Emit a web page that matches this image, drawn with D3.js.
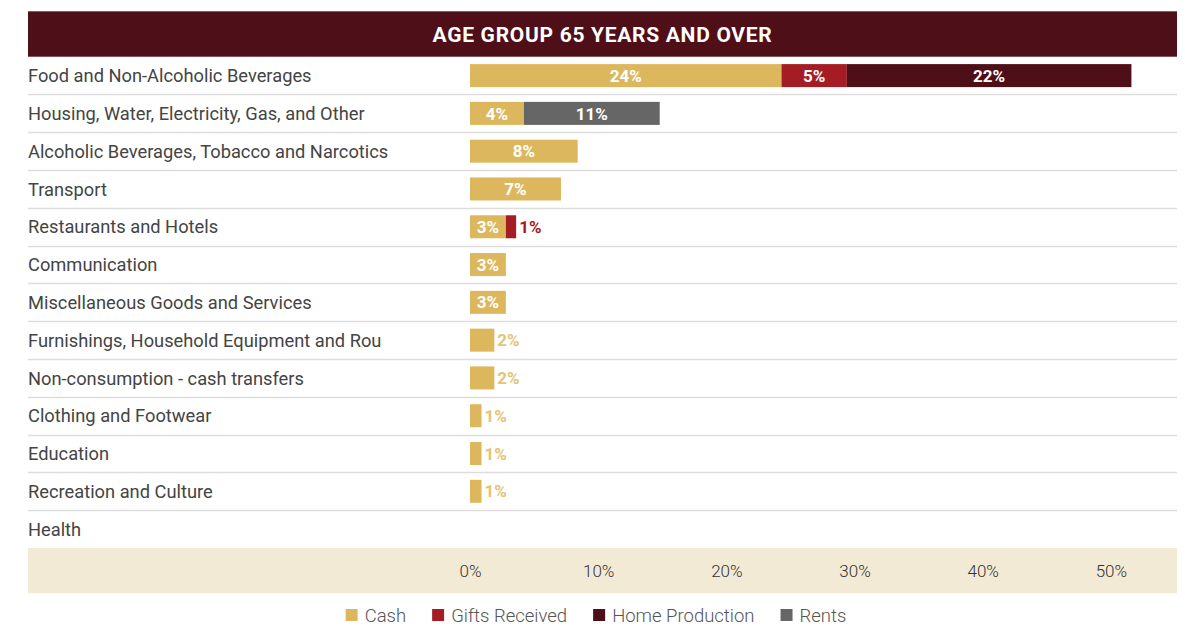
<!DOCTYPE html>
<html>
<head>
<meta charset="utf-8">
<script src="https://cdn.jsdelivr.net/npm/d3@7/dist/d3.min.js"></script>
<style>
  html, body { margin: 0; padding: 0; background: #fff; }
  svg { display: block; font-family: Roboto, "Noto Sans", sans-serif; }
</style>
</head>
<body>
<svg id="chart" width="1185" height="627"></svg>
<script>
// Spending categories (share of total, %)
const categories = [
  "Food and Non-Alcoholic Beverages",
  "Housing, Water, Electricity, Gas, and Other",
  "Alcoholic Beverages, Tobacco and Narcotics",
  "Transport",
  "Restaurants and Hotels",
  "Communication",
  "Miscellaneous Goods and Services",
  "Furnishings, Household Equipment and Rou",
  "Non-consumption - cash transfers",
  "Clothing and Footwear",
  "Education",
  "Recreation and Culture",
  "Health"
];
const seriesNames = ["Cash", "Gifts Received", "Home Production", "Rents"];
const cash           = [24.3, 4.2, 8.4, 7.1, 2.8, 2.8, 2.8, 1.9, 1.9, 0.9, 0.9, 0.9, 0];
const giftsReceived  = [5.1, 0, 0, 0, 0.8, 0, 0, 0, 0, 0, 0, 0, 0];
const homeProduction = [22.2, 0, 0, 0, 0, 0, 0, 0, 0, 0, 0, 0, 0];
const rents          = [0, 10.6, 0, 0, 0, 0, 0, 0, 0, 0, 0, 0, 0];
const tickValues = [0, 10, 20, 30, 40, 50];
const title = "AGE GROUP 65 YEARS AND OVER";

const colors = {
  "Cash": "#dcb75d",
  "Gifts Received": "#a51d24",
  "Home Production": "#4f0f18",
  "Rents": "#666666"
};
const outsideLabelColors = {
  "Cash": "#e3c476",
  "Gifts Received": "#a51d24",
  "Home Production": "#4f0f18",
  "Rents": "#666666"
};

const rows = categories.map((c, i) => ({
  category: c,
  "Cash": cash[i],
  "Gifts Received": giftsReceived[i],
  "Home Production": homeProduction[i],
  "Rents": rents[i]
}));

const svg = d3.select("#chart");
const left = 28, right = 1177;
const headerTop = 11.5, headerBottom = 56.7;
const rowsBottom = 548;
const axisBottom = 593.3;

const x = d3.scaleLinear().domain([0, 55]).range([470, 1175]);
const y = d3.scaleBand().domain(categories).range([headerBottom, rowsBottom]).padding(0);
const barH = 23;

// Header band
svg.append("line")
  .attr("x1", left).attr("x2", right)
  .attr("y1", headerTop).attr("y2", headerTop)
  .attr("stroke", "#b9b0b1").attr("stroke-width", 1);
svg.append("rect")
  .attr("x", left).attr("y", headerTop)
  .attr("width", right - left).attr("height", headerBottom - headerTop)
  .attr("fill", "#4f0f18");
svg.append("text")
  .attr("x", 602.5).attr("y", (headerTop + headerBottom) / 2 + 0.8)
  .attr("dy", "0.36em")
  .attr("text-anchor", "middle")
  .attr("fill", "#ffffff")
  .attr("font-weight", 700)
  .attr("font-size", 21)
  .attr("letter-spacing", 0.7)
  .text(title);

// Row separators
svg.append("g").selectAll("line")
  .data(categories.slice(1))
  .join("line")
  .attr("x1", left).attr("x2", right)
  .attr("y1", d => Math.round(y(d)) + 0.5).attr("y2", d => Math.round(y(d)) + 0.5)
  .attr("stroke", "#dddddd").attr("stroke-width", 1.3);

// Row labels
svg.append("g").selectAll("text")
  .data(categories)
  .join("text")
  .attr("x", left)
  .attr("y", d => y(d) + y.bandwidth() / 2)
  .attr("dy", "0.36em")
  .attr("fill", "#444444")
  .attr("font-size", 18.3)
  .text(d => d);

// Stacked bars
const stack = d3.stack().keys(seriesNames);
const layers = stack(rows);

const segs = [];
layers.forEach(layer => {
  layer.forEach(p => {
    const v = p[1] - p[0];
    if (v > 0) segs.push({ key: layer.key, cat: p.data.category, x0: p[0], x1: p[1], v });
  });
});

const barG = svg.append("g");
barG.selectAll("rect")
  .data(segs)
  .join("rect")
  .attr("x", d => x(d.x0))
  .attr("y", d => y(d.cat) + (y.bandwidth() - barH) / 2)
  .attr("width", d => x(d.x1) - x(d.x0))
  .attr("height", barH)
  .attr("fill", d => colors[d.key]);

// Value labels: inside when the segment is wide enough, otherwise just past its end
barG.selectAll("text")
  .data(segs)
  .join("text")
  .each(function (d) {
    const w = x(d.x1) - x(d.x0);
    const inside = w >= 30;
    d3.select(this)
      .attr("x", inside ? (x(d.x0) + x(d.x1)) / 2 : x(d.x1) + 3)
      .attr("y", y(d.cat) + y.bandwidth() / 2)
      .attr("dy", "0.36em")
      .attr("text-anchor", inside ? "middle" : "start")
      .attr("fill", inside ? "#ffffff" : outsideLabelColors[d.key]);
  })
  .attr("font-weight", 700)
  .attr("font-size", 17)
  .text(d => Math.round(d.v) + "%");

// Axis band
svg.append("rect")
  .attr("x", left).attr("y", rowsBottom)
  .attr("width", right - left).attr("height", axisBottom - rowsBottom)
  .attr("fill", "#f3ead6");

const axis = d3.axisBottom(x)
  .tickValues(tickValues)
  .tickSize(0)
  .tickPadding(0)
  .tickFormat(d => d + "%");
const axisG = svg.append("g")
  .attr("transform", `translate(0, ${(rowsBottom + axisBottom) / 2})`)
  .call(axis);
axisG.select(".domain").remove();
axisG.selectAll("text")
  .attr("y", 0)
  .attr("dy", "0.36em")
  .attr("fill", "#333333")
  .attr("font-size", 17)
  .attr("font-weight", 300)
  .attr("font-family", "Roboto, sans-serif");

// Legend
const legend = svg.append("g");
const items = legend.selectAll("g")
  .data(seriesNames)
  .join("g");
items.append("rect")
  .attr("width", 12).attr("height", 12)
  .attr("y", -6)
  .attr("fill", d => colors[d]);
items.append("text")
  .attr("x", 19)
  .attr("dy", "0.36em")
  .attr("fill", "#555555")
  .attr("font-size", 18.5)
  .attr("font-weight", 300)
  .text(d => d);

let cursor = 0;
const gap = 26;
items.each(function () {
  const g = d3.select(this);
  g.attr("transform", `translate(${cursor},0)`);
  const w = 19 + g.select("text").node().getComputedTextLength();
  cursor += w + gap;
});
const total = cursor - gap;
legend.attr("transform", `translate(${596 - total / 2}, 615)`);
</script>
</body>
</html>
